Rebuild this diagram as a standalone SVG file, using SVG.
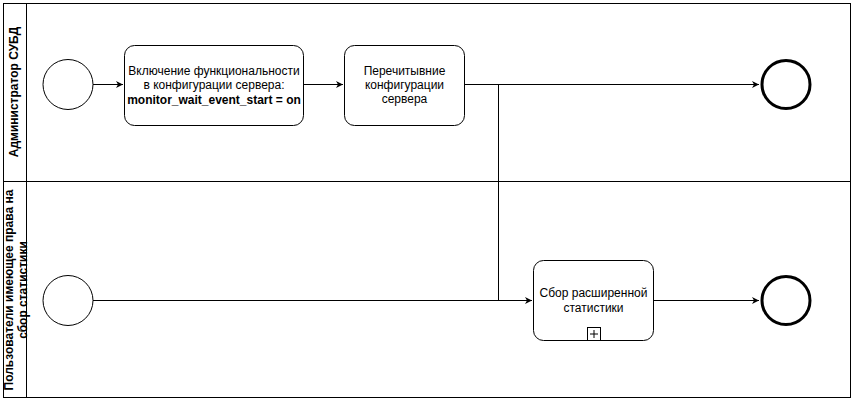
<svg xmlns="http://www.w3.org/2000/svg" width="854" height="401" viewBox="0 0 854 401">
<style>
.b{fill:#fff;stroke:#000;stroke-width:1}
.e{stroke-width:3}
.t{font-family:"Liberation Sans",Arial,sans-serif;font-size:12px;text-anchor:middle;fill:#000}
.h{font-weight:bold}
.c{fill:none;stroke:#000;stroke-width:1}
</style>
<defs><marker id="a" markerWidth="8" markerHeight="8" refX="7" refY="4" orient="auto" markerUnits="userSpaceOnUse"><path d="M0,0.5 L7,4 L0,7.5 L2,4 Z" fill="#000"/></marker></defs>
<rect width="854" height="401" fill="#fff"/>
<g id="pool">
<rect class="b" x="3.5" y="3.5" width="847" height="394"/>
<line class="c" x1="26.5" y1="3.5" x2="26.5" y2="397.5"/>
<line class="c" x1="3.5" y1="181.5" x2="850.5" y2="181.5"/>
<text class="t h" transform="translate(18,92) rotate(-90)">Администратор СУБД</text>
<text class="t h" transform="translate(13,290) rotate(-90)">Пользователи имеющее права на</text>
<text class="t h" transform="translate(27,290) rotate(-90)">сбор статистики</text>
</g>
<g id="connectors">
<line class="c" x1="93" y1="84.5" x2="123" y2="84.5" marker-end="url(#a)"/>
<line class="c" x1="303" y1="84.5" x2="343" y2="84.5" marker-end="url(#a)"/>
<line class="c" x1="464" y1="84.5" x2="759" y2="84.5" marker-end="url(#a)"/>
<polyline class="c" points="498.5,84.5 498.5,300.5"/>
<line class="c" x1="93" y1="300.5" x2="532" y2="300.5" marker-end="url(#a)"/>
<line class="c" x1="653" y1="300.5" x2="759" y2="300.5" marker-end="url(#a)"/>
</g>
<g id="start1"><circle class="b" cx="68" cy="84.5" r="25"/></g>
<g id="task1"><rect class="b" x="124.5" y="45.5" width="179" height="80" rx="10"/>
<text class="t" x="214" y="75">Включение функциональности</text>
<text class="t" x="214" y="89">в конфигурации сервера:</text>
<text class="t h" x="214" y="104">monitor_wait_event_start = on</text></g>
<g id="task2"><rect class="b" x="344.5" y="45.5" width="120" height="80" rx="10"/>
<text class="t" x="404.5" y="75">Перечитывние</text>
<text class="t" x="404.5" y="89">конфигурации</text>
<text class="t" x="404.5" y="103">сервера</text></g>
<g id="end1"><circle class="b e" cx="786" cy="84.5" r="24"/></g>
<g id="start2"><circle class="b" cx="68" cy="300.5" r="25"/></g>
<g id="task3"><rect class="b" x="533.5" y="260.5" width="120" height="80" rx="10"/>
<text class="t" x="593.5" y="297">Сбор расширенной</text>
<text class="t" x="593.5" y="312">статистики</text>
<rect class="b" x="587.5" y="327.5" width="13" height="13"/>
<path class="c" d="M594,330 V338 M590,334 H598"/></g>
<g id="end2"><circle class="b e" cx="786" cy="300.5" r="24"/></g>
</svg>
